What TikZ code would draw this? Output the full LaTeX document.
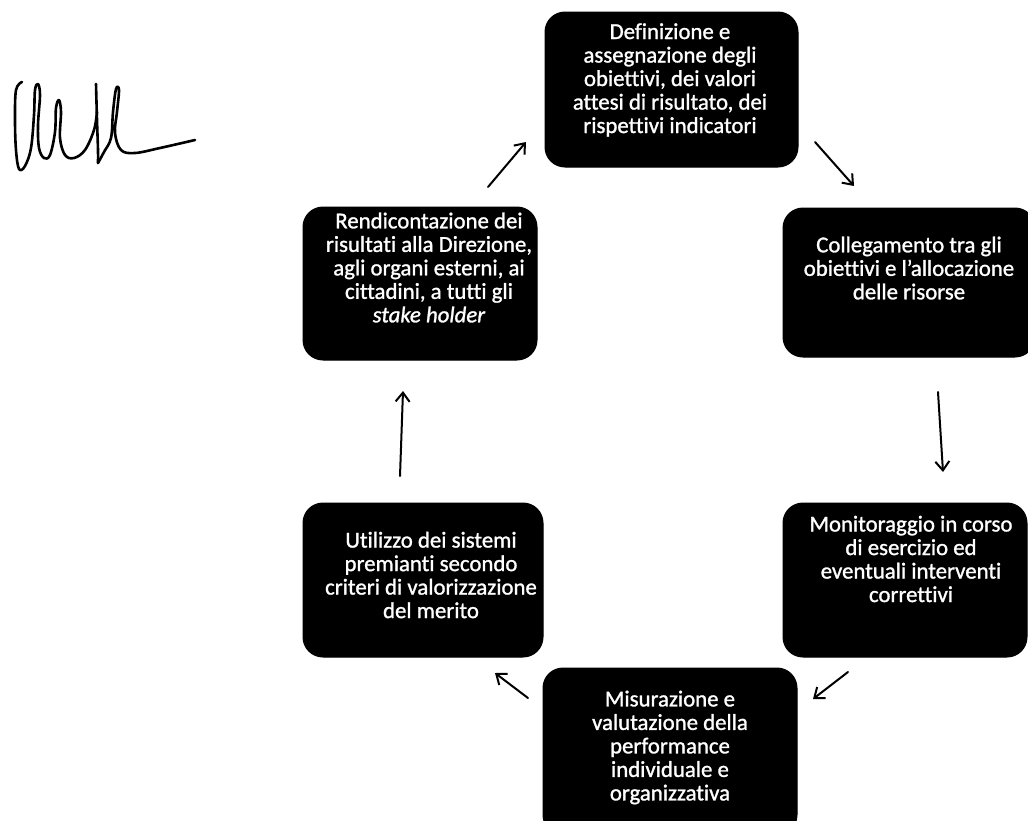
\documentclass[tikz,border=0pt]{standalone}
\usepackage{fontspec}
\setmainfont{Carlito}[Ligatures=NoCommon, FakeBold=1.2]
\usetikzlibrary{arrows.meta}

\begin{document}
\begin{tikzpicture}[x=1pt,y=-1pt,
  stagebox/.style={rectangle, fill=black, draw=black, line width=1pt,
    rounded corners=20pt, inner sep=0pt},
  stagetext/.style={text=white, align=center, inner sep=0pt,
    font=\fontsize{22.8}{23.5}\selectfont},
  cyclearrow/.style={line width=2pt, line cap=round,
    -{Straight Barb[length=9pt,width=14pt,line width=2pt]}},
  ink/.style={line width=2.6pt, line cap=round, line join=round}]

\useasboundingbox (0,0) rectangle (1028,820);
\clip (0,0) rectangle (1028,820);

% the six stages of the cycle
\node[stagebox, minimum width=253pt, minimum height=155pt] (b1) at (671.5,89.5) {};
\node[stagebox, minimum width=252pt, minimum height=149pt] (b2) at (909,282.5) {};
\node[stagebox, minimum width=234pt, minimum height=153pt] (b3) at (420,283.5) {};
\node[stagebox, minimum width=240pt, minimum height=154pt] (b4) at (423,580) {};
\node[stagebox, minimum width=244pt, minimum height=154pt] (b5) at (905,580) {};
\node[stagebox, minimum width=254pt, minimum height=167pt] (b6) at (670,751.5) {};

\node[stagetext] (t1) at (670,80)
  {Definizione e\\assegnazione degli\\obiettivi, dei valori\\attesi di risultato, dei\\rispettivi indicatori};
\node[stagetext] (t2) at (909,268)
  {Collegamento tra gli\\obiettivi e l’allocazione\\delle risorse};
\node[stagetext] (t3) at (429,267.5)
  {Rendicontazione dei\\risultati alla Direzione,\\agli organi esterni, ai\\cittadini, a tutti gli\\\textit{stake holder}};
\node[stagetext] (t4) at (431,575)
  {Utilizzo dei sistemi\\premianti secondo\\criteri di valorizzazione\\del merito};
\node[stagetext] (t5) at (911,559)
  {Monitoraggio in corso\\di esercizio ed\\eventuali interventi\\correttivi};
\node[stagetext] (t6) at (670,747.5)
  {Misurazione e\\valutazione della\\performance\\individuale e\\organizzativa};

% hand-drawn arrows between the stages
\coordinate (a1s) at (488,187); \coordinate (a1e) at (526,142);
\coordinate (a2s) at (815,142); \coordinate (a2e) at (854,186);
\coordinate (a3s) at (938,392); \coordinate (a3e) at (943,472);
\coordinate (a4s) at (848,672); \coordinate (a4e) at (813,699);
\coordinate (a5s) at (528,698); \coordinate (a5e) at (495,673);
\coordinate (a6s) at (400,476); \coordinate (a6e) at (403,391);

\draw[cyclearrow] (a1s) -- (a1e);
\draw[cyclearrow] (a2s) -- (a2e);
\draw[cyclearrow] (a3s) -- (a3e);
\draw[cyclearrow] (a4s) -- (a4e);
\draw[cyclearrow] (a5s) -- (a5e);
\draw[cyclearrow] (a6s) -- (a6e);

% signature
\draw[ink] plot[smooth, tension=0.6] coordinates {
  (22,82) (16,90) (15,120) (16,150) (19,169) (25,166) (31,148) (34,115)
  (35,90) (38,84) (40,95) (38,125) (39,148) (44,158) (50,155) (55,132)
  (56,108) (59,100) (61,112) (60,138) (65,155) (74,158) (85,150) (94,130)
  (97,112)};
\draw[ink] plot[smooth, tension=0.5] coordinates {
  (96,84) (97,120) (98,150) (98,163)};
\draw[ink] plot[smooth, tension=0.6] coordinates {
  (98,163) (104,152) (111,138) (113,112) (116,89) (119,90) (117,112)
  (115,133) (121,150) (135,153) (160,148) (195,140)};

\end{tikzpicture}
\end{document}
